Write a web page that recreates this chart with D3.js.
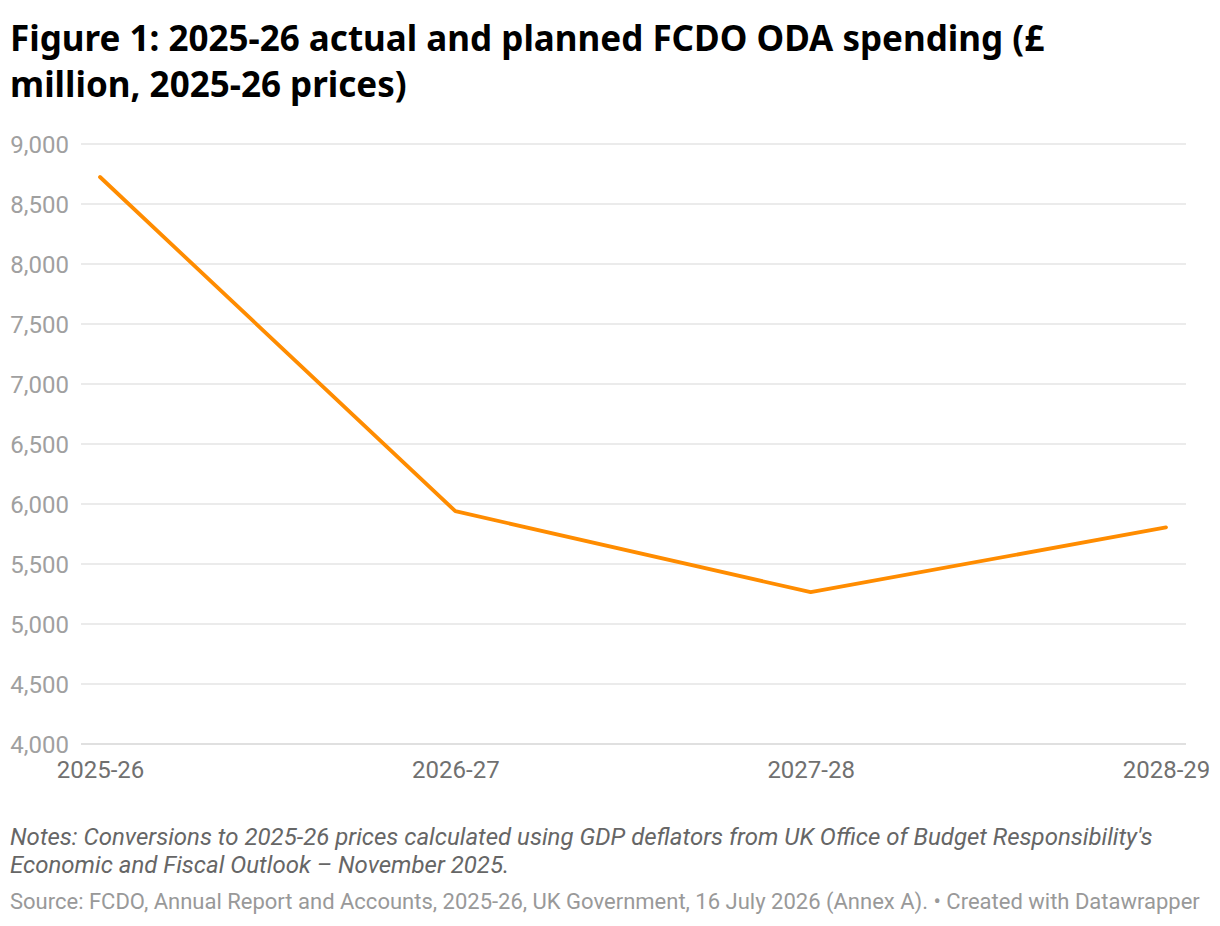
<!DOCTYPE html>
<html>
<head>
<meta charset="utf-8">
<script src="https://cdn.jsdelivr.net/npm/d3@7"></script>
<style>
  body { margin: 0; background: #fff; }
  #chart text { font-family: Roboto, sans-serif; }
</style>
</head>
<body>
<div id="chart"></div>
<script>
// Chart data
const years = ['2025-26', '2026-27', '2027-28', '2028-29'];
const spending = [8725, 5940, 5265, 5805];
const yTicks = [4000, 4500, 5000, 5500, 6000, 6500, 7000, 7500, 8000, 8500, 9000];

const titleLines = [
    'Figure 1: 2025-26 actual and planned FCDO ODA spending (£',
    'million, 2025-26 prices)'
];
const noteLines = [
    "Notes: Conversions to 2025-26 prices calculated using GDP deflators from UK Office of Budget Responsibility's",
    'Economic and Fiscal Outlook – November 2025.'
];
const sourceText = 'Source: FCDO, Annual Report and Accounts, 2025-26, UK Government, 16 July 2026 (Annex A). • Created with Datawrapper';

const width = 1220;
const height = 926;

const svg = d3.select('#chart')
    .append('svg')
    .attr('width', width)
    .attr('height', height);

// Title
svg.append('g')
    .selectAll('text')
    .data(titleLines)
    .join('text')
    .attr('x', 10)
    .attr('y', (d, i) => 51 + i * 46)
    .style('font-family', '"Noto Sans", sans-serif')
    .attr('font-weight', 700)
    .attr('font-size', '35px')
    .attr('fill', '#000')
    .text(d => d);

const x = d3.scalePoint()
    .domain(years)
    .range([100, 1166]);

const y = d3.scaleLinear()
    .domain([4000, 9000])
    .range([744, 144]);

// Gridlines
svg.append('g')
    .selectAll('line')
    .data(yTicks)
    .join('line')
    .attr('x1', 81)
    .attr('x2', 1186)
    .attr('y1', d => y(d))
    .attr('y2', d => y(d))
    .attr('stroke', d => d === 4000 ? '#d6d6d6' : '#e4e4e4')
    .attr('stroke-width', 1.5);

// Y axis labels
const yAxis = svg.append('g')
    .attr('transform', 'translate(69,0)')
    .call(d3.axisLeft(y).tickValues(yTicks).tickSize(0).tickPadding(0).tickFormat(d3.format(',')));
yAxis.select('.domain').remove();
yAxis.selectAll('text')
    .attr('fill', '#a0a0a0')
    .attr('font-size', '24px')
    .attr('dy', '0.35em');

// X axis labels
const xAxis = svg.append('g')
    .attr('transform', 'translate(0,744)')
    .call(d3.axisBottom(x).tickSize(0).tickPadding(17));
xAxis.select('.domain').remove();
xAxis.selectAll('text')
    .attr('fill', '#707070')
    .attr('font-size', '24px');

// Line
const line = d3.line()
    .x((d, i) => x(years[i]))
    .y(d => y(d));

svg.append('path')
    .datum(spending)
    .attr('d', line)
    .attr('fill', 'none')
    .attr('stroke', '#ff8c00')
    .attr('stroke-width', 3.8)
    .attr('stroke-linejoin', 'round')
    .attr('stroke-linecap', 'round');

// Notes
svg.append('g')
    .selectAll('text')
    .data(noteLines)
    .join('text')
    .attr('x', 10)
    .attr('y', (d, i) => 845 + i * 28)
    .attr('font-size', '24px')
    .attr('font-style', 'italic')
    .attr('fill', '#666')
    .text(d => d);

// Source
svg.append('text')
    .attr('x', 10)
    .attr('y', 909)
    .attr('font-size', '22px')
    .attr('fill', '#999')
    .text(sourceText);
</script>
</body>
</html>
